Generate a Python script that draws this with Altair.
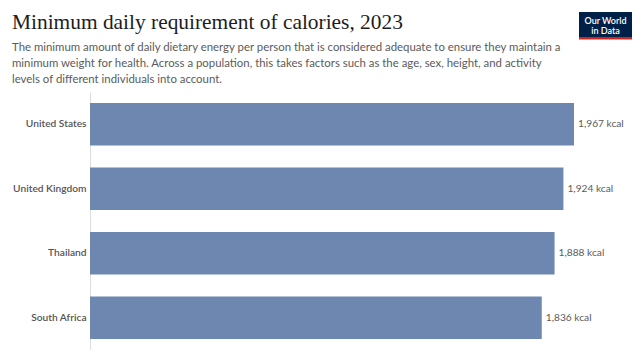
import altair as alt
import pandas as pd

countries = ["United States", "United Kingdom", "Thailand", "South Africa"]
values = [1967, 1924, 1888, 1836]

title_text = "Minimum daily requirement of calories, 2023"
subtitle_lines = [
    "The minimum amount of daily dietary energy per person that is considered adequate to ensure they maintain a",
    "minimum weight for health. Across a population, this takes factors such as the age, sex, height, and activity",
    "levels of different individuals into account.",
]
logo_lines = ["Our World", "in Data"]

df = pd.DataFrame({"country": countries, "value": values})
one = pd.DataFrame({"k": [0]})

PAD_L, PAD_T = 82, 84
W, H = 484, 258

base = alt.Chart(df)

bars = base.mark_bar(color="#6d87b1").encode(
    y=alt.Y("country:N", sort=None, title=None,
            scale=alt.Scale(paddingInner=0.34, paddingOuter=0.17),
            axis=alt.Axis(labelFont="Lato", labelFontSize=10.2, labelFontWeight=600,
                          labelColor="#555555", ticks=False, labelPadding=4,
                          domainColor="#dddddd", domainWidth=1)),
    x=alt.X("value:Q", title=None, scale=alt.Scale(domain=[0, 1967], nice=False, zero=True),
            axis=None),
)

labels = base.transform_calculate(
    lab="format(datum.value, ',') + ' kcal'"
).mark_text(align="left", baseline="middle", dx=4, font="Lato", fontSize=10.2,
            color="#5b5b5b").encode(
    y=alt.Y("country:N", sort=None),
    x=alt.X("value:Q"),
    text="lab:N",
)

title = alt.Chart(one).mark_text(
    text=title_text, align="left", baseline="alphabetic", font="Liberation Serif",
    fontSize=21.4, color="#1d1d1d"
).encode(x=alt.value(12 - 8 - PAD_L), y=alt.value(29 - 8 - PAD_T))

subtitle = alt.Chart(one).mark_text(
    text=subtitle_lines, align="left", baseline="alphabetic", font="Lato",
    fontSize=11.4, lineHeight=16, color="#5b5b5b"
).encode(x=alt.value(12 - 8 - PAD_L), y=alt.value(51 - 8 - PAD_T))

logo_box = alt.Chart(one).mark_rect(color="#002147").encode(
    x=alt.value(579 - 8 - PAD_L), x2=alt.value(632 - 8 - PAD_L),
    y=alt.value(12 - 8 - PAD_T), y2=alt.value(37 - 8 - PAD_T))
logo_red = alt.Chart(one).mark_rect(color="#ce261e").encode(
    x=alt.value(579 - 8 - PAD_L), x2=alt.value(632 - 8 - PAD_L),
    y=alt.value(37 - 8 - PAD_T), y2=alt.value(39.5 - 8 - PAD_T))
logo_text = alt.Chart(one).mark_text(
    text=logo_lines, align="center", baseline="alphabetic", font="Lato",
    fontSize=9, fontWeight=600, lineHeight=10, color="#ffffff"
).encode(x=alt.value(605.5 - 8 - PAD_L), y=alt.value(23.5 - 8 - PAD_T))

chart = alt.layer(bars, labels, title, subtitle, logo_box, logo_red, logo_text).properties(
    width=W, height=H,
    autosize=alt.AutoSizeParams(type="none"),
    padding={"left": PAD_L, "top": PAD_T, "right": 624 - PAD_L - W, "bottom": 0},
).configure_view(stroke=None)

chart.save("out.html", embed_options={"renderer": "svg", "actions": False})
